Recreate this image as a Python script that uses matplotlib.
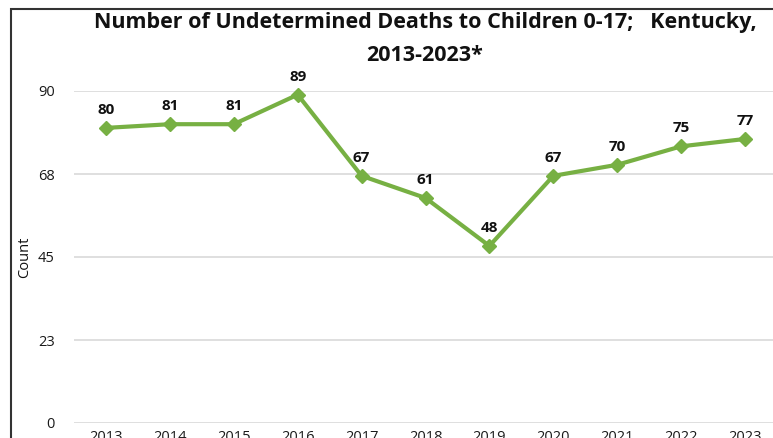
import numpy as np
import matplotlib
matplotlib.use("Agg")
import matplotlib.pyplot as plt
from matplotlib.patches import Rectangle

# data
years = ['2013', '2014', '2015', '2016', '2017', '2018', '2019', '2020', '2021', '2022', '2023']
deaths = [80, 81, 81, 89, 67, 61, 48, 67, 70, 75, 77]
yticks = [0, 22.5, 45, 67.5, 90]
ytick_labels = ['0', '23', '45', '68', '90']

title = 'Number of Undetermined Deaths to Children 0-17;   Kentucky,\n2013-2023*'
green = '#77B043'

plt.rcParams['font.family'] = ['Open Sans', 'DejaVu Sans']

W, H = 773, 438
fig = plt.figure(figsize=(W / 100, H / 100), dpi=100)

# chart frame border (runs off the right/bottom edge like the screenshot)
fig.add_artist(Rectangle((11 / W, -0.1), 1.2, 1 - 9 / H + 0.1, transform=fig.transFigure,
                         fill=False, edgecolor='#333333', linewidth=1.5))

# axes: category centres 2013 at x=106px, 2023 at x=745px -> plot area 74..777
ax = fig.add_axes([74 / W, 15 / H, 703 / W, 332 / H])
x = np.arange(len(years))
ax.set_xlim(-0.5, len(years) - 0.5)
ax.set_ylim(0, 90)

ax.set_yticks(yticks)
ax.set_yticklabels(ytick_labels)
ax.set_xticks(x)
ax.set_xticklabels(years)
ax.grid(axis='y', color='#D9D9D9', linewidth=1.2)
ax.set_axisbelow(True)
for s in ax.spines.values():
    s.set_visible(False)
ax.tick_params(axis='both', length=0, labelsize=10.5, colors='#1a1a1a')
ax.tick_params(axis='y', pad=14)
ax.tick_params(axis='x', pad=5)

ax.plot(x, deaths, color=green, linewidth=3, marker='D', markersize=7,
        markerfacecolor=green, markeredgecolor=green, clip_on=False, zorder=3)

for xi, v in zip(x, deaths):
    ax.annotate(str(v), (xi, v), xytext=(0, 8), textcoords='offset points',
                ha='center', va='bottom', fontsize=11, fontweight='bold',
                color='#111111', annotation_clip=False)

ax.set_ylabel('Count', fontsize=10.5, color='#111111', labelpad=4)

fig.text(425 / W, 1 - 39 / H, title, ha='center', va='center', fontsize=15.5,
         fontweight='bold', color='#111111', linespacing=1.75)

fig.savefig('out.png', dpi=100)
